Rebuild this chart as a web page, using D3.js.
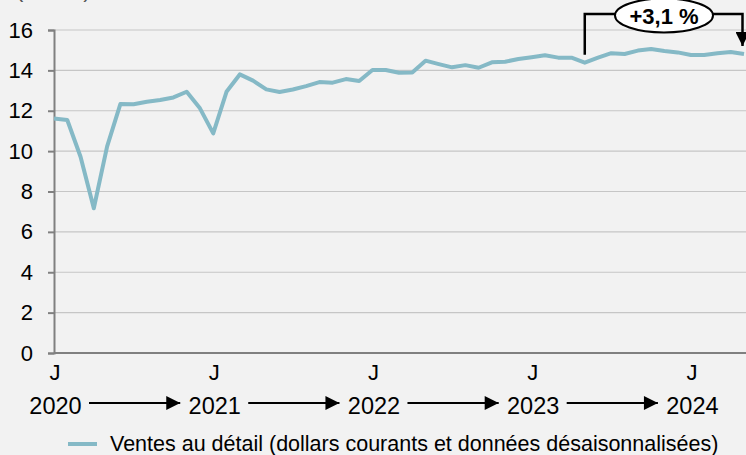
<!DOCTYPE html>
<html lang="fr">
<head>
    <meta charset="utf-8">
    <title>Ventes au détail</title>
    <script src="https://d3js.org/d3.v7.min.js"></script>
    <style>
        body { margin: 0; background: #f2f2f2; }
        svg { display: block; font-family: "Liberation Sans", Arial, sans-serif; }
    </style>
</head>
<body>

<script>
    // monthly values, Jan 2020 -> May 2024 (billions $)
    const values = [
        11.62, 11.54, 9.72, 7.17, 10.22, 12.33, 12.32, 12.45, 12.53, 12.66, 12.94, 12.12,
        10.88, 12.94, 13.80, 13.49, 13.06, 12.93, 13.05, 13.22, 13.42, 13.39, 13.57, 13.47,
        14.02, 14.02, 13.88, 13.90, 14.48, 14.31, 14.15, 14.26, 14.13, 14.40, 14.43, 14.56,
        14.65, 14.75, 14.63, 14.63, 14.38, 14.63, 14.85, 14.81, 14.98, 15.06, 14.96, 14.89,
        14.76, 14.76, 14.85, 14.91, 14.81
    ];
    const yTicks = [0, 2, 4, 6, 8, 10, 12, 14, 16];
    const januaryIdx = [0, 12, 24, 36, 48];
    const years = ["2020", "2021", "2022", "2023", "2024"];
    const changeFrom = 40, changeTo = 52;
    const changeLabel = "+3,1 %";
    const unitLabel = "(en G$)";
    const legendLabel = "Ventes au détail (dollars courants et données désaisonnalisées)";

    const lineColor = "#85b9c6";
    const W = 746, H = 455;

    const svg = d3.select("body").append("svg").attr("width", W).attr("height", H);

    const x = d3.scaleLinear().domain([0, values.length - 1]).range([54, 744]);
    const y = d3.scaleLinear().domain([0, 16]).range([353, 30]);

    // unit label, mostly above the top edge like in the source
    svg.append("text").attr("x", 16).attr("y", -3).style("font-size", "22px").attr("fill", "#555")
        .text(unitLabel);

    // gridlines
    svg.append("g").selectAll("line")
        .data(yTicks.filter(d => d > 0)).join("line")
        .attr("x1", 54).attr("x2", W)
        .attr("y1", d => y(d)).attr("y2", d => y(d))
        .attr("stroke", "#c6c6c6").attr("stroke-width", 1.2);

    // y axis
    const yAxis = svg.append("g").attr("transform", "translate(54,0)")
        .call(d3.axisLeft(y).tickValues(yTicks).tickSize(6).tickPadding(15));
    yAxis.select(".domain").attr("stroke", "#808080").attr("stroke-width", 2);
    yAxis.selectAll(".tick line").attr("stroke", "#808080").attr("stroke-width", 2);
    yAxis.selectAll(".tick text").style("font-size", "22px").attr("fill", "#000")
        .attr("font-family", "Liberation Sans, Arial, sans-serif");

    // x axis line
    svg.append("line").attr("x1", 54).attr("x2", W).attr("y1", y(0)).attr("y2", y(0))
        .attr("stroke", "#808080").attr("stroke-width", 2);

    // J labels
    svg.append("g").selectAll("text")
        .data(januaryIdx).join("text")
        .attr("x", d => x(d) + 1).attr("y", 380)
        .attr("text-anchor", "middle").style("font-size", "22px")
        .text("J");

    // year labels
    svg.append("g").selectAll("text")
        .data(years).join("text")
        .attr("x", (d, i) => x(januaryIdx[i]) + 1.5).attr("y", 414)
        .attr("text-anchor", "middle").style("font-size", "23.5px")
        .text(d => d);

    // arrow head
    svg.append("defs").append("marker").attr("id", "head")
        .attr("viewBox", "0 0 10 10").attr("refX", 10).attr("refY", 5)
        .attr("markerWidth", 16).attr("markerHeight", 14).attr("markerUnits", "userSpaceOnUse")
        .attr("orient", "auto")
        .append("path").attr("d", "M0,0L10,5L0,10Z").attr("fill", "#000");

    // arrows between years
    svg.append("g").selectAll("line")
        .data(d3.range(years.length - 1)).join("line")
        .attr("x1", i => x(januaryIdx[i]) + 35)
        .attr("x2", i => x(januaryIdx[i + 1]) - 33)
        .attr("y1", 403).attr("y2", 403)
        .attr("stroke", "#000").attr("stroke-width", 2)
        .attr("marker-end", "url(#head)");

    // data line
    svg.append("path")
        .datum(values)
        .attr("fill", "none")
        .attr("stroke", lineColor)
        .attr("stroke-width", 4)
        .attr("stroke-linejoin", "round")
        .attr("d", d3.line().x((d, i) => x(i)).y(d => y(d)));

    // change annotation
    const ax1 = x(changeFrom), ax2 = x(changeTo) - 1.5, ay = 14;
    svg.append("path")
        .attr("d", `M${ax1},${y(values[changeFrom]) - 8}V${ay}H${ax2}V46`)
        .attr("fill", "none").attr("stroke", "#000").attr("stroke-width", 2.5)
        .attr("marker-end", "url(#head)");
    svg.append("ellipse").attr("cx", 664).attr("cy", 15.5).attr("rx", 49).attr("ry", 17)
        .attr("fill", "#fff").attr("stroke", "#000").attr("stroke-width", 2);
    svg.append("text").attr("x", 664).attr("y", 23.5)
        .attr("text-anchor", "middle").style("font-size", "22px").style("font-weight", "bold")
        .text(changeLabel);

    // legend
    svg.append("line").attr("x1", 68).attr("x2", 97).attr("y1", 444).attr("y2", 444)
        .attr("stroke", lineColor).attr("stroke-width", 4);
    svg.append("text").attr("x", 110).attr("y", 451).style("font-size", "21.5px")
        .text(legendLabel);
</script>

</body>
</html>
